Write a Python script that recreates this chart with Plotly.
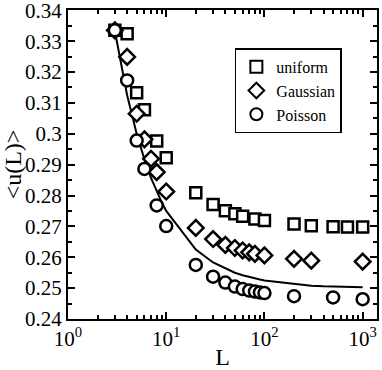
import plotly.graph_objects as go

# данные
L_uni = [3, 4, 5, 6, 8, 10, 20, 30, 40, 50, 60, 80, 100, 200, 300, 500, 700, 1000]
u_uni = [0.3335, 0.3324, 0.3133, 0.3078, 0.2977, 0.2922, 0.2809, 0.2771, 0.2751, 0.2741,
         0.2733, 0.2724, 0.2719, 0.2708, 0.2702, 0.2699, 0.2698, 0.2698]

L_gau = [3, 4, 5, 6, 7, 8, 10, 20, 30, 40, 50, 60, 70, 80, 100, 200, 300, 1000]
u_gau = [0.3335, 0.3249, 0.3065, 0.2982, 0.2919, 0.2876, 0.2813, 0.2695, 0.2659, 0.2640,
         0.2630, 0.2622, 0.2616, 0.2611, 0.2606, 0.2595, 0.2589, 0.2586]

L_poi = [3, 4, 5, 6, 8, 10, 20, 30, 40, 50, 60, 70, 80, 90, 100, 200, 500, 1000]
u_poi = [0.3335, 0.3173, 0.2978, 0.2886, 0.2768, 0.2701, 0.2575, 0.2537, 0.2518, 0.2505,
         0.2497, 0.2492, 0.2489, 0.2486, 0.2484, 0.2474, 0.2470, 0.2464]

L_line = [3, 4, 5, 6, 7, 8, 9, 10, 20, 30, 40, 50, 60, 70, 80, 90, 100,
          200, 300, 400, 500, 600, 700, 800, 900, 1000]
u_line = [0.3333, 0.3125, 0.3000, 0.2917, 0.2857, 0.2813, 0.2778, 0.2750, 0.2625, 0.2583,
          0.2563, 0.2550, 0.2542, 0.2536, 0.2531, 0.2528, 0.2525, 0.2513, 0.2508, 0.2506,
          0.2505, 0.2504, 0.2504, 0.2503, 0.2503, 0.2503]

x_ticks = [1, 10, 100, 1000]
x_labels = ['10<sup>0</sup>', '10<sup>1</sup>', '10<sup>2</sup>', '10<sup>3</sup>']
x_minor = [2, 3, 4, 5, 6, 7, 8, 9, 20, 30, 40, 50, 60, 70, 80, 90,
           200, 300, 400, 500, 600, 700, 800, 900]
y_ticks = [0.24, 0.25, 0.26, 0.27, 0.28, 0.29, 0.30, 0.31, 0.32, 0.33, 0.34]
y_labels = ['0.24', '0.25', '0.26', '0.27', '0.28', '0.29', '0.3', '0.31', '0.32', '0.33', '0.34']

mk = dict(color='white', line=dict(color='black', width=2.5))
serif = 'Liberation Serif, Times New Roman, serif'

fig = go.Figure()
fig.add_trace(go.Scatter(x=L_line, y=u_line, mode='lines', line=dict(color='black', width=2),
                         showlegend=False))
fig.add_trace(go.Scatter(x=L_uni, y=u_uni, mode='markers', name='uniform',
                         marker=dict(symbol='square', size=11, **mk)))
fig.add_trace(go.Scatter(x=L_gau, y=u_gau, mode='markers', name='Gaussian',
                         marker=dict(symbol='diamond', size=12, **mk)))
fig.add_trace(go.Scatter(x=L_poi, y=u_poi, mode='markers', name='Poisson',
                         marker=dict(symbol='circle', size=12, **mk)))

fig.update_layout(
    width=382, height=370,
    margin=dict(l=68, r=5, t=10, b=51),
    plot_bgcolor='white', paper_bgcolor='white',
    font=dict(family=serif, color='black', size=21),
    legend=dict(x=0.54, y=0.876, xanchor='left', yanchor='top',
                bordercolor='black', borderwidth=1.5, bgcolor='white',
                font=dict(size=16, family=serif), tracegroupgap=0, itemsizing='constant'),
)
fig.update_xaxes(
    type='log', range=[0, 3.146], tickvals=x_ticks, ticktext=x_labels, automargin=False,
    tickfont=dict(family=serif, size=21, color='black'),
    showline=True, linecolor='black', linewidth=2, mirror='ticks',
    ticks='inside', ticklen=7, tickwidth=2, tickcolor='black', showgrid=False, zeroline=False,
    minor=dict(tickmode='array', tickvals=x_minor, ticks='inside', ticklen=4,
               tickwidth=2, tickcolor='black', showgrid=False),
    title=dict(text='L', font=dict(size=24, family=serif)),
)
fig.update_yaxes(
    range=[0.24, 0.3401], tickvals=y_ticks, ticktext=y_labels, automargin=False,
    tickfont=dict(family=serif, size=21, color='black'), ticklabeloverflow='allow',
    showline=True, linecolor='black', linewidth=2, mirror='ticks',
    ticks='inside', ticklen=7, tickwidth=2, tickcolor='black', showgrid=False, zeroline=False,
    minor=dict(tickmode='linear', tick0=0.24, dtick=0.005, ticks='inside', ticklen=4,
               tickwidth=2, tickcolor='black', showgrid=False),
    title=dict(text='<u(L)>', font=dict(size=24, family=serif)),
)

fig.write_html('out.html', config={'displayModeBar': False},
               post_script="document.body.style.margin='0';")
